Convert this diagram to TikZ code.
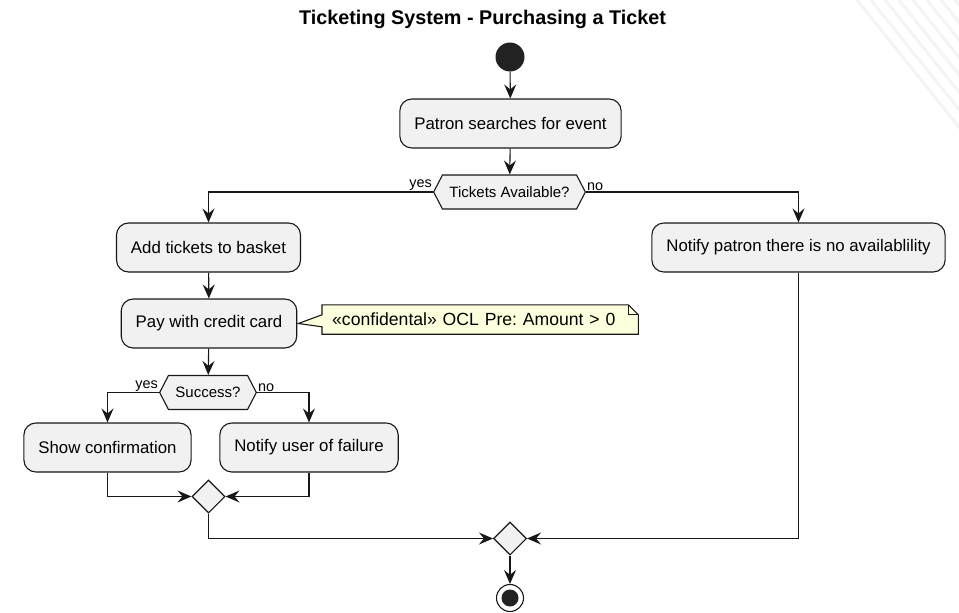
\documentclass[tikz,border=0pt]{standalone}
\usepackage{fontspec}
\setmainfont{Liberation Sans}
\usetikzlibrary{shapes.geometric,shapes.symbols,arrows.meta,calc,positioning}

\definecolor{actfill}{HTML}{F1F1F1}
\definecolor{lineclr}{HTML}{181818}
\definecolor{notefill}{HTML}{FEFFDD}
\definecolor{dotclr}{HTML}{222222}
\frenchspacing

\begin{document}
\begin{tikzpicture}[x=1pt,y=-1pt,
  every node/.style={align=center,font=\fontsize{16.8}{20}\selectfont},
  action/.style={draw=lineclr,fill=actfill,line width=1.1pt,rounded corners=12pt,minimum height=49pt,inner xsep=14.5pt},
  decision/.style={draw=lineclr,fill=actfill,line width=1.1pt,shape=signal,signal to=west and east,signal pointer angle=125,minimum height=34pt,inner xsep=7pt,inner ysep=2pt,font=\fontsize{15}{17}\selectfont},
  merge/.style={draw=lineclr,fill=actfill,line width=1.1pt,diamond,minimum size=33pt,inner sep=0pt},
  guard/.style={inner sep=1pt,font=\fontsize{14.4}{16}\selectfont},
  flow/.style={draw=lineclr,line width=1.1pt,-{Stealth[length=14pt,width=12pt,inset=5pt]}},
  watermark/.style={draw=gray!9,line width=3pt}]
\useasboundingbox (0,0) rectangle (959,613);
\begin{scope}
\clip (0,0) rectangle (959,613);
\foreach \k in {0,...,7} \draw[watermark] (857+14*\k,0) -- ++(110,137);
\end{scope}

\node [font=\fontsize{19.8}{23}\selectfont\bfseries] (Title) at (482.5,19) {Ticketing System - Purchasing a Ticket};
\node [circle,fill=dotclr,minimum size=29pt,inner sep=0pt] (Start) at (510,57) {};
\node [action] (SearchEvent) at (510.5,123.5) {Patron searches for event};
\node [decision] (TicketsAvailable) at (509.5,192) {Tickets Available?};
\node [guard,anchor=south east] (AvailableYes) at (TicketsAvailable.west) {yes};
\node [guard,anchor=south west] (AvailableNo) at (TicketsAvailable.east) {no};
\node [action] (AddTickets) at (208.5,247.5) {Add tickets to basket};
\node [action] (NotifyPatron) at (798.5,247.5) {Notify patron there is no availablility};
\node [action] (PayCard) at (209,323.5) {Pay with credit card};
\node [anchor=west,align=left,text width=296pt,minimum height=29pt,inner xsep=10pt,inner ysep=0pt] (PayNote) at (322,319.5) {};
\draw [draw=lineclr,fill=notefill,line width=1.1pt] (PayNote.north west) -- ($(PayNote.north west)+(0,10)$) -- ([xshift=1pt]PayCard.east) -- ($(PayNote.north west)+(0,22)$) -- (PayNote.south west) -- (PayNote.south east) -- ($(PayNote.north east)+(0,10)$) -- ($(PayNote.north east)+(-10,0)$) -- cycle;
\draw [draw=lineclr,line width=1.1pt] ($(PayNote.north east)+(-10,0)$) |- ($(PayNote.north east)+(0,10)$);
\node [anchor=west,align=left,text width=296pt,minimum height=29pt,inner xsep=10pt,inner ysep=0pt,font=\fontsize{17.6}{20}\selectfont] (PayNoteText) at (322,319.5) {«confidental» OCL Pre: Amount > 0};
\node [decision] (Success) at (208,392.5) {Success?};
\node [guard,anchor=south east] (SuccessYes) at (Success.west) {yes};
\node [guard,anchor=south west] (SuccessNo) at (Success.east) {no};
\node [action] (ShowConfirmation) at (107.5,447.5) {Show confirmation};
\node [action] (NotifyFailure) at (309,447.5) {Notify user of failure};
\node [merge] (PaymentMerge) at (208.5,496.5) {};
\node [merge] (FinalMerge) at (510,538.5) {};
\node [circle,draw=lineclr,fill=white,line width=1.1pt,minimum size=27pt,inner sep=0pt] (Stop) at (510,598) {};
\node [circle,fill=dotclr,minimum size=17pt,inner sep=0pt] (StopDot) at (Stop.center) {};

\draw [flow] (Start) -- (SearchEvent);
\draw [flow] (SearchEvent) -- (TicketsAvailable);
\draw [flow] (TicketsAvailable.west) -| (AddTickets);
\draw [flow] (TicketsAvailable.east) -| (NotifyPatron);
\draw [flow] (AddTickets) -- (PayCard);
\draw [flow] (PayCard) -- (Success);
\draw [flow] (Success.west) -| (ShowConfirmation);
\draw [flow] (Success.east) -| (NotifyFailure);
\draw [flow] (ShowConfirmation) |- (PaymentMerge);
\draw [flow] (NotifyFailure) |- (PaymentMerge);
\draw [flow] (PaymentMerge) |- (FinalMerge);
\draw [flow] (NotifyPatron) |- (FinalMerge);
\draw [flow] (FinalMerge) -- (Stop);
\end{tikzpicture}
\end{document}
